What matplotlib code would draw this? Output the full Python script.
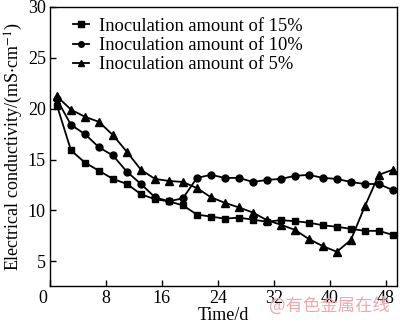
import numpy as np
import matplotlib
matplotlib.use('Agg')
from matplotlib import pyplot as plt
from matplotlib.legend_handler import HandlerLine2D

days = [1, 3, 5, 7, 9, 11, 13, 15, 17, 19, 21, 23, 25,
        27, 29, 31, 33, 35, 37, 39, 41, 43, 45, 47, 49]

ec_15 = [20.3, 15.9, 14.7, 13.9, 13.1, 12.6, 11.6, 11.1, 10.9, 10.5, 9.6, 9.4, 9.2,
         9.3, 9.1, 8.9, 9.05, 8.95, 8.8, 8.55, 8.4, 8.2, 8.0, 8.0, 7.6]
ec_10 = [20.9, 18.4, 17.5, 16.2, 15.4, 13.8, 12.6, 11.3, 10.9, 11.2, 13.2, 13.5, 13.2,
         13.2, 12.8, 13.0, 13.1, 13.4, 13.5, 13.2, 13.1, 12.8, 12.6, 12.6, 12.0]
ec_5 = [21.2, 19.9, 19.2, 18.7, 17.4, 15.75, 14.0, 13.1, 12.9, 12.8, 12.2, 11.3, 10.75,
        10.3, 9.8, 9.05, 8.6, 8.1, 7.2, 6.5, 5.95, 7.1, 10.4, 13.5, 14.0]

labels = ['Inoculation amount of 15%', 'Inoculation amount of 10%', 'Inoculation amount of 5%']
x_ticks = [0, 8, 16, 24, 32, 40, 48]
y_ticks = [5, 10, 15, 20, 25, 30]


class MarkerLeft(HandlerLine2D):
    # marker first, then a short dash, like "■—"
    def get_xdata(self, legend, xdescent, ydescent, width, height, fontsize):
        xdata = np.array([-xdescent + width * 0.42, -xdescent + width])
        xdata_marker = np.array([-xdescent])
        return xdata, xdata_marker


plt.rcParams['font.family'] = ['Liberation Serif', 'DejaVu Serif']
plt.rcParams['mathtext.fontset'] = 'stix'

fig = plt.figure(figsize=(4.0, 3.23), dpi=100)
ax = fig.add_axes([0.125, 0.115, 0.8675, 0.864])

lines = []
for vals, mk, ms in [(ec_15, 's', 4.5), (ec_10, 'o', 5), (ec_5, '^', 5.5)]:
    ln, = ax.plot(days, vals, color='black', lw=1.3, marker=mk, ms=ms)
    lines.append(ln)

ax.set_xlim(0, 49.6)
ax.set_ylim(2.6, 30)
ax.set_xticks(x_ticks)
ax.set_xticklabels([''] + [str(t) for t in x_ticks[1:]])
ax.set_yticks(y_ticks)
ax.tick_params(direction='in', labelsize=13, length=4, width=1, pad=3)
for s in ax.spines.values():
    s.set_linewidth(1.0)

ax.set_xlabel('Time/d', fontsize=13, labelpad=0)
ax.set_ylabel('Electrical conductivity/(mS$\\cdot$cm$^{-1}$)', fontsize=13, labelpad=2)

# the origin label sits a bit left of the axis corner
ax.annotate('0', xy=(0, 0), xycoords='axes fraction', xytext=(-5, -3),
            textcoords='offset points', fontsize=13, ha='center', va='top')

hmap = {ln: MarkerLeft(numpoints=1) for ln in lines}
leg = ax.legend(lines, labels, loc='upper left', bbox_to_anchor=(0.0, 1.0), frameon=False,
                fontsize=13.3, handlelength=1.5, handletextpad=0.55, labelspacing=0.12,
                borderaxespad=0.2, handler_map=hmap)
for h in leg.legend_handles:
    h.set_markersize(4)

fig.text(0.975, 0.025, '@有色金属在线', fontsize=12.5, color='#f0a8ae', ha='right', va='bottom',
         family=['Noto Sans CJK SC', 'DejaVu Sans'])

fig.savefig('out.png', dpi=100)
